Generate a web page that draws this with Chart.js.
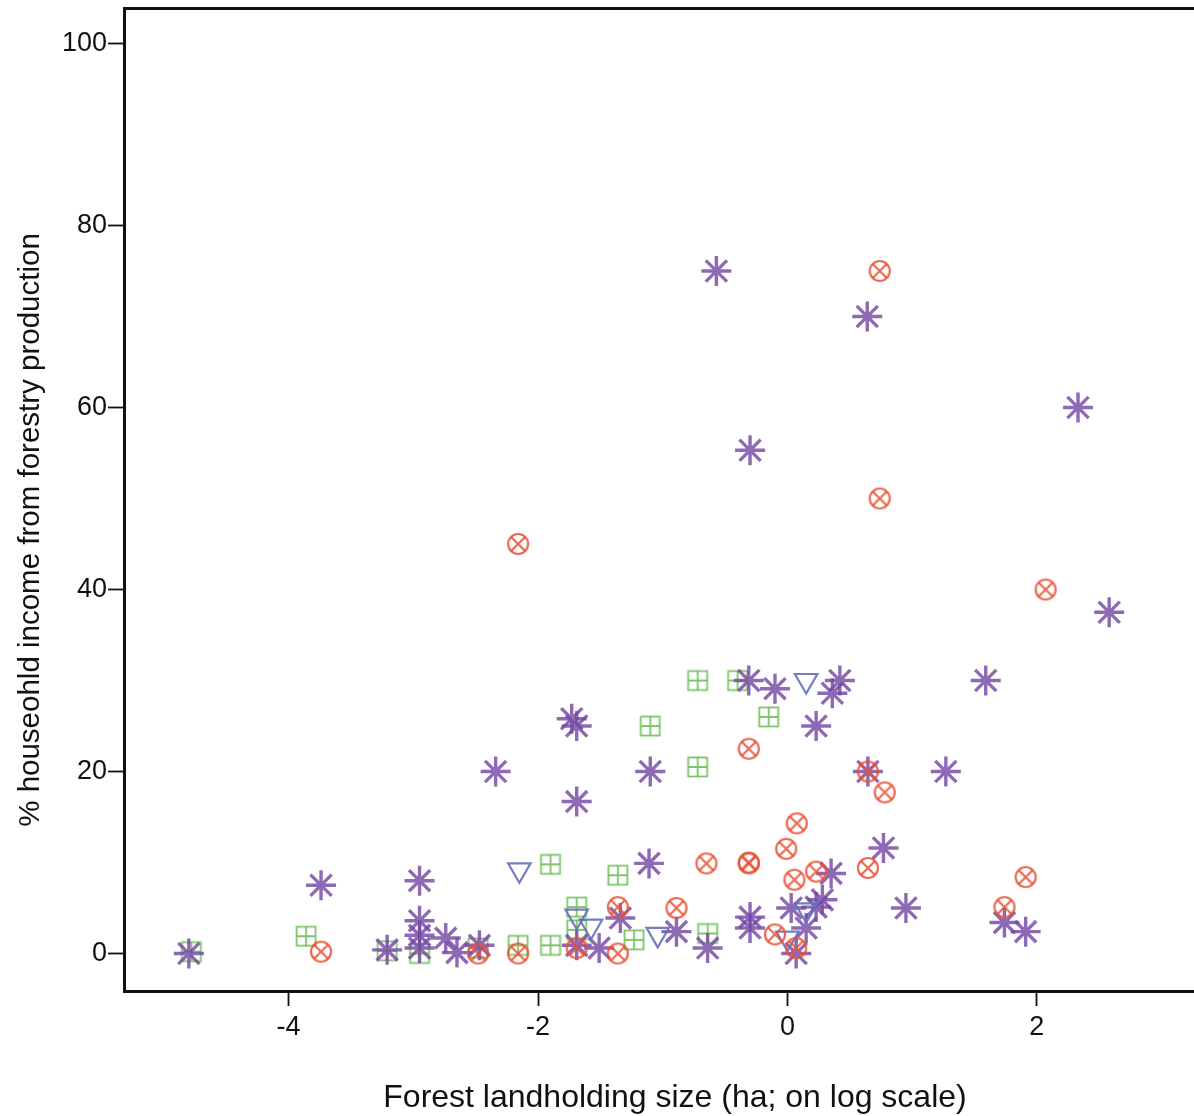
<!DOCTYPE html>
<html>
<head>
<meta charset="utf-8">
<title>Forestry income vs forest landholding size</title>
<script src="https://cdn.jsdelivr.net/npm/chart.js@4.4.1/dist/chart.umd.min.js"></script>
<style>
  html, body { margin: 0; padding: 0; background: #fff; }
  #chart { display: block; }
</style>
</head>
<body>
<canvas id="chart" width="1194" height="1116"></canvas>
<script>
// x = forest landholding size (log ha), y = % household income from forestry
var asteriskX = [-4.80, -3.74, -3.21, -2.95, -2.95, -2.95, -2.95, -2.74, -2.65, -2.47, -2.34, -1.73, -1.69, -1.69, -1.69, -1.51,
  -1.34, -1.10, -1.11, -0.89, -0.64, -0.57, -0.30, -0.31, -0.30, -0.30, -0.10, 0.03, 0.07, 0.15, 0.23, 0.23, 0.28, 0.35, 0.36,
  0.42, 0.64, 0.645, 0.77, 0.95, 1.27, 1.59, 1.74, 1.91, 2.33, 2.58];
var asteriskY = [0, 7.5, 0.4, 8.0, 3.6, 2.0, 0.6, 1.7, 0.1, 0.9, 20, 25.8, 25.0, 16.7, 0.9, 0.6,
  3.9, 20, 9.9, 2.4, 0.6, 75, 55.3, 30, 4.0, 2.8, 29.1, 5.0, 0, 2.8, 25, 5.1, 5.9, 8.8, 28.6,
  30, 70, 20, 11.6, 5.0, 20, 30, 3.4, 2.4, 60, 37.5];

var circleX = [-3.74, -2.48, -2.16, -2.16, -1.69, -1.36, -1.36, -0.89, -0.65, -0.31, -0.31, -0.31, -0.10, -0.01, 0.056,
  0.075, 0.07, 0.23, 0.645, 0.645, 0.74, 0.74, 0.78, 1.74, 1.91, 2.07];
var circleY = [0.2, 0, 45, 0, 0.6, 5.1, 0, 5.0, 9.9, 22.5, 9.9, 10.0, 2.1, 11.5, 8.1,
  14.3, 0.6, 9.0, 9.4, 20, 75, 50, 17.7, 5.1, 8.4, 40];

var squareX = [-4.78, -3.86, -3.21, -2.95, -2.48, -2.16, -1.90, -1.90, -1.69, -1.69, -1.36, -1.23, -1.10, -0.72, -0.72,
  -0.64, -0.40, -0.15];
var squareY = [0.2, 1.9, 0.3, 0, 0.6, 0.9, 9.8, 0.9, 5.1, 2.6, 8.6, 1.5, 25, 30, 20.5,
  2.2, 30, 26];

var triangleX = [-2.15, -1.69, -1.575, -1.04, 0.0, 0.15, 0.15];
var triangleY = [9.2, 4.1, 3.0, 2.1, 1.7, 4.8, 30];

var xTicks = [-4, -2, 0, 2];
var yTicks = [0, 20, 40, 60, 80, 100];
var xTitle = 'Forest landholding size (ha; on log scale)';
var yTitle = '% houseohld income from forestry production';

var FONT = '"Liberation Sans", Arial, sans-serif';
var INK = '#111111';

function toPoints(xs, ys) {
  return xs.map(function (x, i) { return { x: x, y: ys[i] }; });
}

// marker glyphs not built into Chart.js
function circleCross(color) {
  var c = document.createElement('canvas');
  c.width = 26; c.height = 26;
  var g = c.getContext('2d');
  g.strokeStyle = color;
  g.lineWidth = 2.2;
  g.beginPath(); g.arc(13, 13, 10, 0, Math.PI * 2); g.stroke();
  g.beginPath();
  g.moveTo(6, 6); g.lineTo(20, 20);
  g.moveTo(20, 6); g.lineTo(6, 20);
  g.stroke();
  return c;
}
function squarePlus(color) {
  var c = document.createElement('canvas');
  c.width = 24; c.height = 24;
  var g = c.getContext('2d');
  g.strokeStyle = color;
  g.lineWidth = 1.8;
  g.strokeRect(2.5, 2.5, 19, 19);
  g.beginPath();
  g.moveTo(12, 2.5); g.lineTo(12, 21.5);
  g.moveTo(2.5, 12); g.lineTo(21.5, 12);
  g.stroke();
  return c;
}

var axisTitles = {
  id: 'axisTitles',
  afterDraw: function (chart) {
    var ctx = chart.ctx;
    ctx.save();
    ctx.fillStyle = INK;
    ctx.textAlign = 'center';
    ctx.textBaseline = 'middle';
    ctx.font = '32px ' + FONT;
    ctx.fillText(xTitle, 675, 1098);
    ctx.translate(31, 530);
    ctx.rotate(-Math.PI / 2);
    ctx.font = '29.5px ' + FONT;
    ctx.fillText(yTitle, 0, 0);
    ctx.restore();
  }
};

function fixedTicks(list) {
  return function (axis) {
    axis.ticks = list.map(function (v) { return { value: v }; });
  };
}

var ctx = document.getElementById('chart').getContext('2d');
var chart = new Chart(ctx, {
  type: 'scatter',
  data: {
    datasets: [{
      label: 'circle-x',
      data: toPoints(circleX, circleY),
      pointStyle: circleCross('rgba(232, 80, 52, 0.85)'),
      order: 1
    }, {
      label: 'triangle',
      data: toPoints(triangleX, triangleY),
      pointStyle: 'triangle',
      rotation: 180,
      pointRadius: 13,
      pointBorderWidth: 2.2,
      borderColor: 'rgba(98, 114, 184, 0.9)',
      backgroundColor: 'rgba(0, 0, 0, 0)',
      order: 2
    }, {
      label: 'asterisk',
      data: toPoints(asteriskX, asteriskY),
      pointStyle: 'star',
      pointRadius: 15,
      pointBorderWidth: 3.4,
      borderColor: 'rgba(117, 72, 165, 0.82)',
      backgroundColor: 'rgba(117, 72, 165, 0.82)',
      order: 3
    }, {
      label: 'square-plus',
      data: toPoints(squareX, squareY),
      pointStyle: squarePlus('rgba(112, 190, 90, 0.9)'),
      order: 4
    }]
  },
  options: {
    responsive: false,
    animation: false,
    events: [],
    layout: { autoPadding: false, padding: { top: 8, left: 0, right: 0, bottom: 0 } },
    plugins: {
      legend: { display: false },
      tooltip: { enabled: false }
    },
    scales: {
      x: {
        type: 'linear',
        position: 'bottom',
        min: -5.32,
        max: 3.26,
        afterBuildTicks: fixedTicks(xTicks),
        afterFit: function (axis) {
          axis.height = 125;
          axis.paddingLeft = 0;
          axis.paddingRight = 0;
        },
        grid: { drawOnChartArea: false, drawTicks: true, tickLength: 15, tickWidth: 1.8, tickColor: INK },
        border: { display: true, color: INK, width: 3 },
        ticks: { color: INK, padding: 5, font: { family: FONT, size: 27 } }
      },
      xTop: {
        type: 'linear',
        position: 'top',
        min: -5.32,
        max: 3.26,
        afterFit: function (axis) { axis.height = 0; },
        grid: { display: false, drawTicks: false },
        border: { display: true, color: INK, width: 3 },
        ticks: { display: false }
      },
      y: {
        type: 'linear',
        min: -4.12,
        max: 103.9,
        afterBuildTicks: fixedTicks(yTicks),
        afterFit: function (axis) {
          axis.width = 124;
          axis.paddingTop = 0;
          axis.paddingBottom = 0;
        },
        grid: { drawOnChartArea: false, drawTicks: true, tickLength: 16, tickWidth: 1.8, tickColor: INK },
        border: { display: true, color: INK, width: 3 },
        ticks: { color: INK, padding: 1, font: { family: FONT, size: 27 } }
      }
    }
  },
  plugins: [axisTitles]
});
</script>
</body>
</html>
